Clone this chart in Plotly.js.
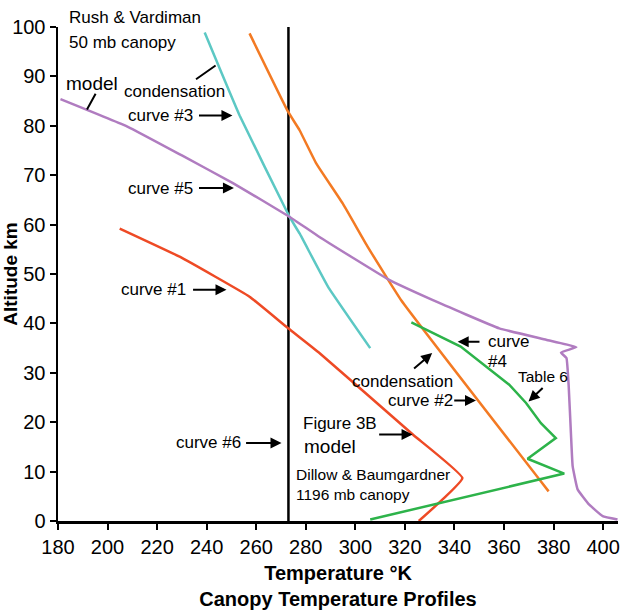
<!DOCTYPE html>
<html>
<head>
<meta charset="utf-8">
<script src="https://cdn.plot.ly/plotly-3.0.1.min.js"></script>
<style>html,body{margin:0;padding:0;background:#fff}#chart{width:624px;height:611px}</style>
</head>
<body>
<div id="chart"></div>
<script>
// Temperature (K) and altitude (km)
var curve5T = [181, 208.2, 230, 250.6, 273.4, 285.5, 313.7, 331.3, 358.1, 377, 389.2, 383, 385.2, 386.1, 387, 387.7, 389.7, 394.4, 399.8, 405.8];
var curve5A = [85.4, 79.8, 74, 68.4, 61.6, 57.5, 48.8, 44.7, 39, 36.7, 35.2, 34.1, 33, 27.3, 17.8, 11.1, 6.4, 3.3, 1.0, 0.3];

var curve3T = [239.2, 253.3, 273.4, 277.5, 289, 306];
var curve3A = [98.9, 82.1, 61.6, 58.2, 47.4, 35];

var curve2T = [257.3, 272.9, 277.5, 284.2, 294.9, 305, 318.5, 378];
var curve2A = [98.7, 82.8, 79.1, 72.4, 64.3, 55.5, 44.7, 6.0];

var curve1T = [204.9, 229.1, 257.3, 272.9, 285.5, 323.2, 343.2, 325.6];
var curve1A = [59.2, 53.5, 45.4, 39, 34, 17.5, 8.7, 0];

var curve4T = [322.6, 342.5, 362.1, 368.9, 374.9, 380.9, 369.5, 384.3, 306];
var curve4A = [40.2, 35.3, 27.6, 23.9, 19.8, 16.8, 12.6, 9.6, 0.3];

var curve6T = [273, 273];
var curve6A = [0, 100];

var xTicks = [180, 200, 220, 240, 260, 280, 300, 320, 340, 360, 380, 400];
var yTicks = [0, 10, 20, 30, 40, 50, 60, 70, 80, 90, 100];

var FONT = 'Arial, "Liberation Sans", sans-serif';

function line(x, y, color) {
  return {x: x, y: y, type: 'scatter', mode: 'lines', line: {color: color, width: 2.5, shape: 'spline', smoothing: 0.3},
          hoverinfo: 'skip', showlegend: false};
}

var data = [
  line(curve6T, curve6A, '#000000'),
  line(curve3T, curve3A, '#5cc8c4'),
  line(curve2T, curve2A, '#f37a23'),
  line(curve1T, curve1A, '#ee4a25'),
  line(curve4T, curve4A, '#2db34a'),
  line(curve5T, curve5A, '#b07cc0')
];
data[4].line.shape = 'linear';

function txt(t, x, y, xa, size) {
  return {text: t, x: x, y: y, xref: 'x', yref: 'y', xanchor: xa, yanchor: 'middle', showarrow: false,
          font: {family: FONT, size: size || 17, color: '#000'}};
}
function arr(x0, y0, x1, y1, head) {
  return {text: '', x: x1, y: y1, ax: x0, ay: y0, xref: 'x', yref: 'y', axref: 'x', ayref: 'y',
          showarrow: true, arrowhead: head === undefined ? 2 : head, arrowsize: 1.1, arrowwidth: 2,
          arrowcolor: '#000', standoff: 0, startstandoff: 0};
}

var topNote = txt('Rush &amp; Vardiman', 183.8, (521.5 - 17) / 495, 'left');
topNote.yref = 'paper';

var annotations = [
  topNote,
  txt('50 mb canopy', 183.8, 96.9, 'left'),
  txt('model', 182.4, 88.6, 'left', 19),
  arr(195.5, 86.8, 191.7, 83.3, 0),
  txt('condensation', 206.0, 87.0, 'left'),
  arr(235.1, 89.2, 243.6, 92.2, 0),
  txt('curve #3', 235.1, 82.1, 'right'),
  arr(236.3, 82.1, 250.4, 82.1),
  txt('curve #5', 235.1, 67.4, 'right'),
  arr(236.3, 67.4, 251.0, 67.4),
  txt('curve #1', 232.4, 46.8, 'right'),
  arr(233.9, 46.8, 248.0, 46.8),
  txt('curve #6', 254.6, 15.8, 'right'),
  arr(255.3, 15.8, 270.2, 15.8),
  txt('Figure 3B', 278.1, 19.8, 'left'),
  txt('model', 278.3, 15.1, 'left', 19),
  arr(309.0, 17.5, 323.1, 17.5),
  txt('Dillow &amp; Baumgardner', 275.4, 9.4, 'left', 15.5),
  txt('1196 mb canopy', 275.4, 5.4, 'left', 15.5),
  txt('condensation', 340.2, 28.2, 'right'),
  txt('curve #2', 340.2, 24.4, 'right'),
  arr(323.1, 30.6, 331.0, 34.0),
  arr(339.3, 24.4, 348.7, 24.4),
  txt('curve', 352.8, 36.3, 'left'),
  txt('#4', 352.8, 32.3, 'left'),
  arr(350.7, 36.3, 341.3, 36.3),
  txt('Table 6', 364.8, 29.3, 'left', 15.5),
  arr(376.2, 27.2, 369.9, 24.2)
];

var layout = {
  width: 624, height: 611,
  margin: {l: 58, r: 6, t: 26.5, b: 89.5},
  paper_bgcolor: '#fff', plot_bgcolor: '#fff',
  font: {family: FONT, color: '#000'},
  showlegend: false,
  xaxis: {
    range: [180, 406], tickvals: xTicks, ticktext: xTicks.map(String),
    showgrid: false, zeroline: false, showline: true, linecolor: '#000', linewidth: 2.5,
    ticks: 'outside', ticklen: 6, tickwidth: 2, tickcolor: '#000',
    tickfont: {family: FONT, size: 20, color: '#000'},
    title: {text: '<b>Temperature °K</b><br><b>Canopy Temperature Profiles</b>', standoff: 10,
            font: {family: FONT, size: 20, color: '#000'}}
  },
  yaxis: {
    range: [0, 100], tickvals: yTicks, ticktext: yTicks.map(String),
    showgrid: false, zeroline: false, showline: true, linecolor: '#000', linewidth: 2.5,
    ticks: 'outside', ticklen: 6, tickwidth: 2, tickcolor: '#000',
    tickfont: {family: FONT, size: 20, color: '#000'},
    title: {text: '<b>Altitude km</b>', standoff: 0, font: {family: FONT, size: 19, color: '#000'}}
  },
  annotations: annotations
};

Plotly.newPlot('chart', data, layout, {displayModeBar: false, staticPlot: true});
</script>
</body>
</html>
